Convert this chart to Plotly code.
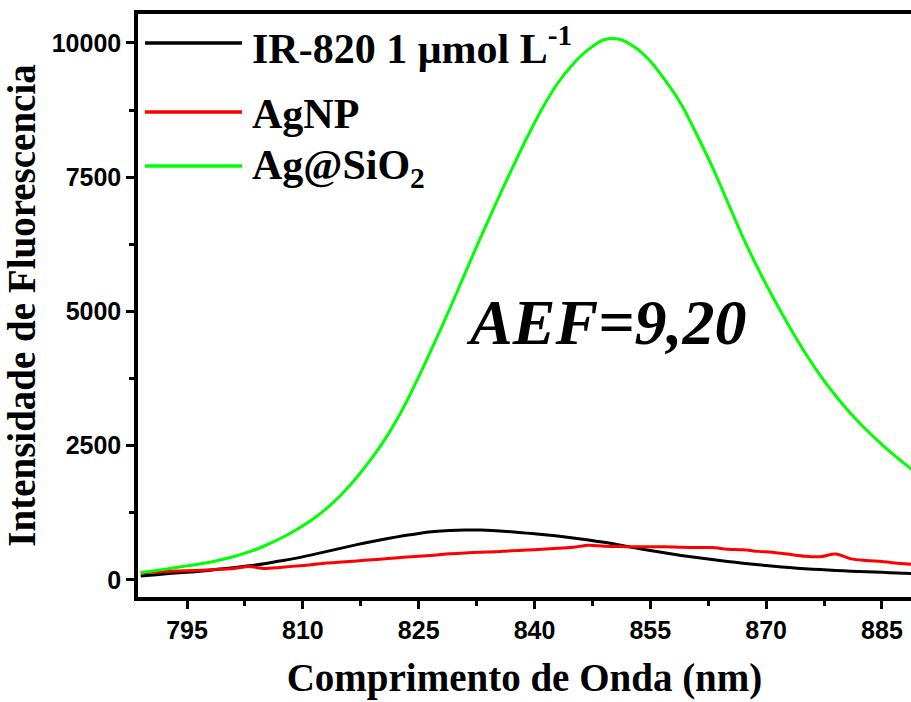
import plotly.graph_objects as go

# Emission spectra (wavelength in nm, fluorescence intensity in counts)
wavelength = [789, 791, 793, 795, 797, 799, 801, 803, 805, 807, 809, 811, 813, 815, 817,
              819, 821, 823, 825, 827, 829, 831, 833, 835, 837, 839, 841, 843, 845, 847,
              849, 851, 853, 855, 857, 859, 861, 863, 865, 867, 869, 871, 873, 875, 877,
              879, 881, 883, 885, 887, 889]

ir820 = [70, 95, 120, 140, 165, 195, 225, 260, 300, 350, 400, 460, 525, 590, 655,
         715, 770, 820, 865, 898, 918, 928, 928, 915, 895, 870, 845, 815, 780, 740,
         698, 650, 595, 545, 500, 455, 415, 378, 343, 310, 280, 252, 228, 207, 190,
         175, 161, 150, 139, 127, 115]

agnp = [130, 145, 160, 170, 180, 195, 210, 250, 210, 230, 255, 280, 315, 330, 350,
        375, 395, 420, 440, 460, 485, 500, 515, 525, 540, 555, 570, 590, 605, 645,
        625, 620, 615, 615, 615, 605, 600, 600, 570, 560, 530, 510, 475, 440, 430,
        480, 390, 360, 340, 310, 285]

ag_sio2 = [135, 175, 215, 260, 305, 360, 430, 520, 630, 765, 920, 1100, 1320, 1590, 1910,
           2280, 2700, 3200, 3780, 4400, 5040, 5710, 6370, 7010, 7630, 8230, 8780, 9250, 9610, 9880,
           10060, 10070, 9920, 9660, 9290, 8860, 8300, 7700, 7040, 6380, 5780, 5230, 4720, 4240, 3810,
           3430, 3090, 2790, 2520, 2270, 2040]

series_names = ["IR-820 1 μmol L<sup>-1</sup>", "AgNP", "Ag@SiO<sub>2</sub>"]
series_values = [ir820, agnp, ag_sio2]
series_colors = ["#000000", "#ff0000", "#00ff00"]

y_ticks = [0, 2500, 5000, 7500, 10000]
y_tick_text = ["0", "2500", "5000", "7500", "10000"]

SERIF = "Liberation Serif, Times New Roman, serif"
SANS = "Liberation Sans, Arial, sans-serif"

fig = go.Figure()
for name, vals, col in zip(series_names, series_values, series_colors):
    fig.add_trace(go.Scatter(x=wavelength, y=vals, mode="lines", name=name,
                             line=dict(color=col, width=3, shape="spline", smoothing=0.8),
                             showlegend=False))

W, H = 911, 702
ML, MR, MT, MB = 138, 0, 14, 105
PW, PH = W - ML - MR, H - MT - MB


def px(xp):
    return (xp - ML) / PW


def py(yp):
    return (H - MB - yp) / PH


# hand-drawn legend: long sample lines with large labels
legend_rows = [43, 112, 166]
shapes = []
annotations = []
for name, col, yrow in zip(series_names, series_colors, legend_rows):
    shapes.append(dict(type="line", xref="paper", yref="paper",
                       x0=px(145), x1=px(242), y0=py(yrow), y1=py(yrow),
                       line=dict(color=col, width=3.5)))
    annotations.append(dict(xref="paper", yref="paper", x=px(250), y=py(yrow + 2),
                            xanchor="left", yanchor="middle", showarrow=False,
                            text="<b>" + name + "</b>",
                            font=dict(family=SERIF, size=42, color="black")))

annotations.append(dict(xref="paper", yref="paper", x=px(606), y=py(322),
                        xanchor="center", yanchor="middle", showarrow=False,
                        text="<b><i>AEF=9,20</i></b>",
                        font=dict(family=SERIF, size=64, color="black")))

fig.update_layout(
    width=W, height=H,
    margin=dict(l=ML, r=MR, t=MT, b=MB, pad=0),
    paper_bgcolor="white", plot_bgcolor="white",
    shapes=shapes, annotations=annotations,
    xaxis=dict(
        range=[788.65, 888.76], tickmode="linear", tick0=795, dtick=15,
        ticks="outside", ticklen=8, tickwidth=3, tickcolor="black",
        minor=dict(tickmode="linear", tick0=787.5, dtick=15, ticks="outside",
                   ticklen=5, tickwidth=3, tickcolor="black"),
        showline=True, linewidth=3.5, linecolor="black", mirror=True,
        showgrid=False, zeroline=False,
        tickfont=dict(family=SANS, size=25, color="black", weight="bold"),
        title=dict(text="<b>Comprimento de Onda (nm)</b>", standoff=22,
                   font=dict(family=SERIF, size=39, color="black")),
    ),
    yaxis=dict(
        range=[-320, 10540], tickmode="array", tickvals=y_ticks, ticktext=y_tick_text,
        ticks="outside", ticklen=8, tickwidth=3, tickcolor="black",
        minor=dict(tickmode="linear", tick0=1250, dtick=2500, ticks="outside",
                   ticklen=5, tickwidth=3, tickcolor="black"),
        showline=True, linewidth=3.5, linecolor="black", mirror=False,
        showgrid=False, zeroline=False,
        tickfont=dict(family=SANS, size=25, color="black", weight="bold"),
        title=dict(text="<b>Intensidade de Fluorescencia</b>", standoff=14,
                   font=dict(family=SERIF, size=39, color="black")),
    ),
)

fig.write_html("out.html")
